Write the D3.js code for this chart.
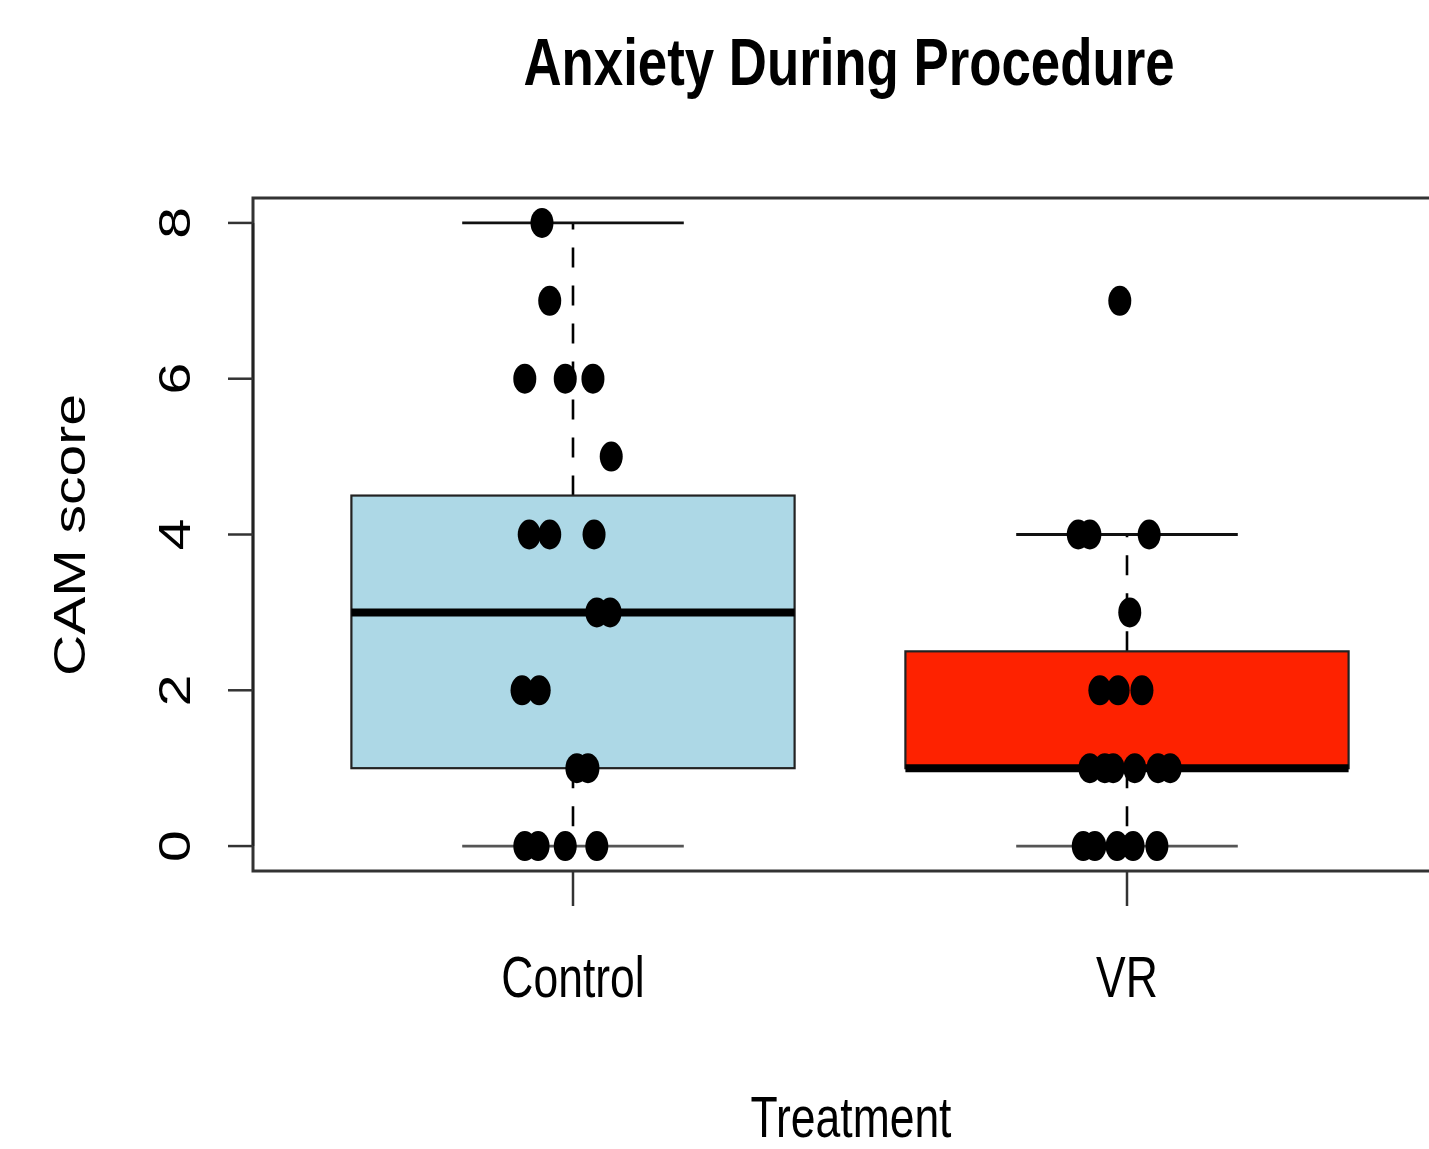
<!DOCTYPE html>
<html>
<head>
<meta charset="utf-8">
<script src="https://cdn.jsdelivr.net/npm/d3@7"></script>
<style>
  html, body { margin: 0; padding: 0; background: #ffffff; }
  svg { display: block; }
  text { font-family: "Liberation Sans", Arial, Helvetica, sans-serif; fill: #000; }
</style>
</head>
<body>
<svg id="chart" width="1429" height="1149"></svg>
<script>
// ---- Data ----
const categories = ["Control", "VR"];
const boxFill = ["#add8e6", "#fe2200"];
// box statistics per group
const whiskerLow  = [0, 0];
const q1          = [1, 1];
const median      = [3, 1];
const q3          = [4.5, 2.5];
const whiskerHigh = [8, 4];
// individual scores (jittered in the original plot)
const controlScores = [8, 7, 6, 6, 6, 5, 4, 4, 4, 3, 3, 2, 2, 1, 1, 0, 0, 0, 0];
const controlJitter = [-0.056, -0.042, -0.087, -0.014, 0.036, 0.069, -0.079, -0.042, 0.038, 0.043, 0.067, -0.092, -0.061, 0.007, 0.027, -0.087, -0.063, -0.014, 0.043];
const vrScores = [7, 4, 4, 4, 3, 2, 2, 2, 1, 1, 1, 1, 1, 1, 0, 0, 0, 0, 0];
const vrJitter = [-0.013, -0.088, -0.067, 0.040, 0.005, -0.049, -0.016, 0.027, -0.067, -0.040, -0.025, 0.014, 0.056, 0.078, -0.079, -0.058, -0.018, 0.011, 0.054];
const yTicks = [0, 2, 4, 6, 8];
const titleText = "Anxiety During Procedure";
const xLabel = "Treatment";
const yLabel = "CAM score";

// ---- Layout ----
const svg = d3.select("#chart");
const plotLeft = 253, plotTop = 198, plotBottom = 871;
const squish = 0.78; // horizontal text compression seen in the reference

const x = d3.scaleLinear().domain([1, 2]).range([573, 1127]);
const y = d3.scaleLinear().domain([-0.32, 8.32]).range([plotBottom, plotTop]);
const unitPx = x(2) - x(1);
const boxHalf = 0.4 * unitPx;
const capHalf = 0.2 * unitPx;

// ---- Boxes ----
categories.forEach((c, i) => {
  const cx = x(i + 1);
  const g = svg.append("g");
  // whiskers (dashed)
  g.append("line").attr("x1", cx).attr("x2", cx)
    .attr("y1", y(q3[i])).attr("y2", y(whiskerHigh[i]))
    .attr("stroke", "#000").attr("stroke-width", 2.6).attr("stroke-dasharray", "20,18");
  g.append("line").attr("x1", cx).attr("x2", cx)
    .attr("y1", y(q1[i])).attr("y2", y(whiskerLow[i]))
    .attr("stroke", "#000").attr("stroke-width", 2.6).attr("stroke-dasharray", "20,18");
  // caps
  [whiskerHigh[i], whiskerLow[i]].forEach((v, k) => {
    g.append("line").attr("x1", cx - capHalf).attr("x2", cx + capHalf)
      .attr("y1", y(v)).attr("y2", y(v))
      .attr("stroke", k === 0 ? "#111" : "#555").attr("stroke-width", 2.8);
  });
  // box
  g.append("rect")
    .attr("x", cx - boxHalf).attr("width", 2 * boxHalf)
    .attr("y", y(q3[i])).attr("height", y(q1[i]) - y(q3[i]))
    .attr("fill", boxFill[i]).attr("stroke", "#222").attr("stroke-width", 2.2);
  // median
  g.append("line").attr("x1", cx - boxHalf).attr("x2", cx + boxHalf)
    .attr("y1", y(median[i])).attr("y2", y(median[i]))
    .attr("stroke", "#000").attr("stroke-width", 8);
});

// ---- Points ----
const points = [];
controlScores.forEach((v, k) => points.push({ g: 1, v, j: controlJitter[k] }));
vrScores.forEach((v, k) => points.push({ g: 2, v, j: vrJitter[k] }));
svg.append("g").selectAll("ellipse").data(points).join("ellipse")
  .attr("cx", d => x(d.g + d.j))
  .attr("cy", d => y(d.v))
  .attr("rx", 11.5).attr("ry", 15)
  .attr("fill", "#000");

// ---- Plot frame ----
svg.append("rect")
  .attr("x", plotLeft).attr("y", plotTop)
  .attr("width", 1429 + 20 - plotLeft).attr("height", plotBottom - plotTop)
  .attr("fill", "none").attr("stroke", "#333").attr("stroke-width", 3);

// ---- Y axis ----
const yAxis = svg.append("g");
yAxis.append("line").attr("x1", plotLeft).attr("x2", plotLeft)
  .attr("y1", y(0)).attr("y2", y(8)).attr("stroke", "#222").attr("stroke-width", 2.5);
yTicks.forEach(t => {
  yAxis.append("line").attr("x1", plotLeft - 25).attr("x2", plotLeft)
    .attr("y1", y(t)).attr("y2", y(t)).attr("stroke", "#333").attr("stroke-width", 2.5);
  yAxis.append("g").attr("transform", `translate(190,${y(t)}) scale(${squish},1)`)
    .append("text").attr("transform", "rotate(-90)")
    .attr("text-anchor", "middle").attr("font-size", 57).attr("fill", "#222")
    .text(t);
});

// ---- X axis ----
categories.forEach((c, i) => {
  const cx = x(i + 1);
  svg.append("line").attr("x1", cx).attr("x2", cx)
    .attr("y1", plotBottom).attr("y2", plotBottom + 35)
    .attr("stroke", "#333").attr("stroke-width", 2.5);
  svg.append("g").attr("transform", `translate(${cx},997) scale(${squish},1)`)
    .append("text").attr("text-anchor", "middle").attr("font-size", 57)
    .text(c);
});

// ---- Titles ----
svg.append("g").attr("transform", `translate(849,85) scale(0.80,1)`)
  .append("text").attr("text-anchor", "middle").attr("font-size", 66)
  .attr("font-weight", "bold").text(titleText);
svg.append("g").attr("transform", `translate(851,1137) scale(${squish},1)`)
  .append("text").attr("text-anchor", "middle").attr("font-size", 57)
  .text(xLabel);
svg.append("g").attr("transform", `translate(85,535) scale(${squish},1)`)
  .append("text").attr("transform", "rotate(-90)")
  .attr("text-anchor", "middle").attr("font-size", 57).attr("fill", "#222")
  .text(yLabel);
</script>
</body>
</html>
